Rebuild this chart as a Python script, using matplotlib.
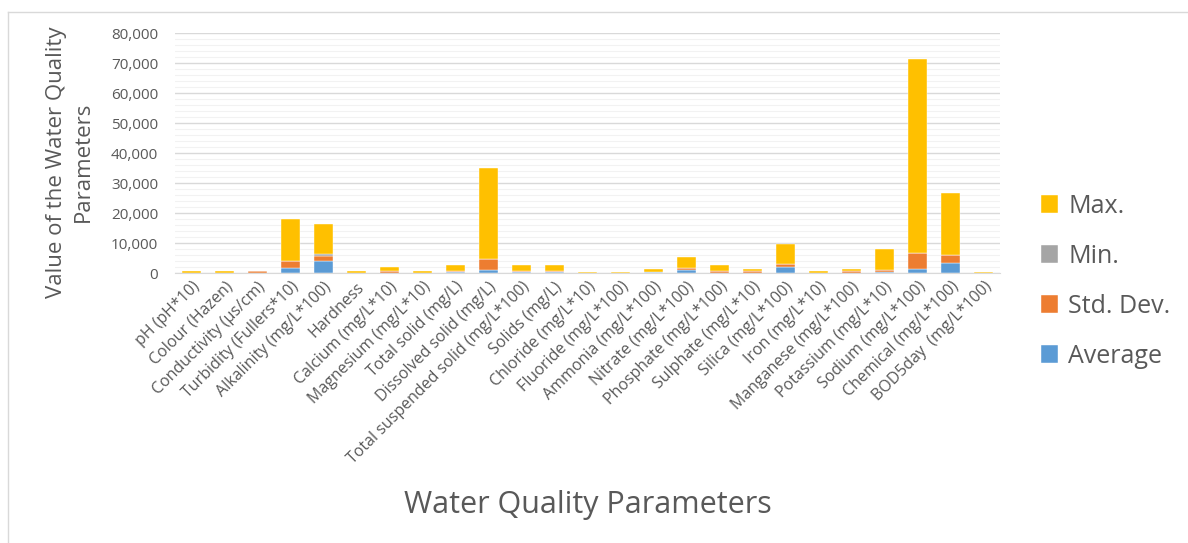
import matplotlib.pyplot as plt
import numpy as np
from matplotlib.ticker import FuncFormatter, MultipleLocator
from matplotlib.lines import Line2D

plt.rcParams['font.family'] = ['Open Sans', 'DejaVu Sans']

parametres = [
    "pH (pH*10)", "Colour (Hazen)", "Conductivity (\u00b5s/cm)", "Turbidity (Fullers*10)",
    "Alkalinity (mg/L*100)", "Hardness", "Calcium (mg/L*10)", "Magnesium (mg/L*10)",
    "Total solid (mg/L)", "Dissolved solid (mg/L)", "Total suspended solid (mg/L*100)",
    "Solids (mg/L)", "Chloride (mg/L*10)", "Fluoride (mg/L*100)", "Ammonia (mg/L*100)",
    "Nitrate (mg/L*100)", "Phosphate (mg/L*100)", "Sulphate (mg/L*10)", "Silica (mg/L*100)",
    "Iron (mg/L*10)", "Manganese (mg/L*100)", "Potassium (mg/L*10)", "Sodium (mg/L*100)",
    "Chemical (mg/L*100)", "BOD5day  (mg/L*100)",
]

moyenne = [75, 60, 150, 1800, 4100, 90, 250, 80, 350, 1200, 450, 400, 60, 50, 350,
           1200, 250, 150, 2100, 80, 150, 550, 1450, 3450, 40]
ecart_type = [10, 20, 450, 2300, 1550, 40, 350, 30, 400, 3650, 200, 250, 30, 20, 80,
              550, 600, 500, 1000, 40, 450, 650, 5200, 2550, 20]
minimum = [60, 20, 50, 50, 900, 50, 60, 40, 100, 50, 50, 50, 20, 10, 50,
           50, 50, 50, 50, 20, 50, 50, 100, 100, 10]
maximum = [700, 700, 200, 13950, 10000, 700, 1450, 750, 1950, 30100, 2100, 2100, 450, 450, 950,
           3550, 1900, 750, 6650, 750, 800, 6950, 64650, 20550, 480]

couleurs = {
    "Average": "#5B9BD5",
    "Std. Dev.": "#ED7D31",
    "Min.": "#A5A5A5",
    "Max.": "#FFC000",
}
series = [("Average", moyenne), ("Std. Dev.", ecart_type), ("Min.", minimum), ("Max.", maximum)]

fig = plt.figure(figsize=(11.88, 5.43), dpi=100)
ax = fig.add_axes([0.1473, 0.4967, 0.6945, 0.442])

x = np.arange(len(parametres))
base = np.zeros(len(parametres))
barres = {}
for nom, valeurs in series:
    valeurs = np.array(valeurs, dtype=float)
    barres[nom] = ax.bar(x, valeurs, bottom=base, width=0.58, color=couleurs[nom],
                         edgecolor='white', linewidth=0.3, label=nom, zorder=3)
    base += valeurs

gris_texte = '#595959'
ax.set_xlim(-0.5, len(parametres) - 0.5)
ax.set_ylim(0, 80000)
ax.yaxis.set_major_locator(MultipleLocator(10000))
ax.yaxis.set_minor_locator(MultipleLocator(2000))
ax.yaxis.set_major_formatter(FuncFormatter(lambda v, p: f"{int(v):,}"))
ax.grid(axis='y', which='major', color='#D9D9D9', linewidth=1.0, zorder=0)
ax.grid(axis='y', which='minor', color='#F2F2F2', linewidth=0.8, zorder=0)
ax.tick_params(axis='y', which='both', length=0, labelsize=11, labelcolor=gris_texte, pad=12)
ax.tick_params(axis='x', length=0, labelsize=11.5, labelcolor=gris_texte, pad=4)
ax.set_xticks(x)
ax.set_xticklabels(parametres, rotation=45, ha='right', rotation_mode='anchor')

for cote in ['top', 'right', 'left']:
    ax.spines[cote].set_visible(False)
ax.spines['bottom'].set_color('#D9D9D9')
ax.spines['bottom'].set_zorder(4)

# titre vertical sur deux lignes
fig.text(70 / 1188, 1 - 162 / 543, "Value of the Water Quality\nParameters", fontsize=16,
         color=gris_texte, rotation=90, ha='center', va='center', multialignment='center',
         linespacing=1.35)
fig.text(0.4945, 0.07, "Water Quality Parameters", fontsize=22, color=gris_texte,
         ha='center', va='center')

poignees = [barres[n] for n in ["Max.", "Min.", "Std. Dev.", "Average"]]
leg = fig.legend(poignees, ["Max.", "Min.", "Std. Dev.", "Average"],
                 loc='center left', bbox_to_anchor=(0.857, 0.482), frameon=False,
                 fontsize=18, labelspacing=1.0, handlelength=0.7, handleheight=0.7,
                 handletextpad=0.4)
for t in leg.get_texts():
    t.set_color(gris_texte)

# cadre du graphique (bords gauche et haut)
x0, y0 = 8 / 1188, 1 - 12 / 543
fig.lines.append(Line2D([x0, x0], [0, y0], transform=fig.transFigure, color='#D9D9D9', linewidth=1))
fig.lines.append(Line2D([x0, 1], [y0, y0], transform=fig.transFigure, color='#D9D9D9', linewidth=1))

fig.savefig("out.png", dpi=100)
